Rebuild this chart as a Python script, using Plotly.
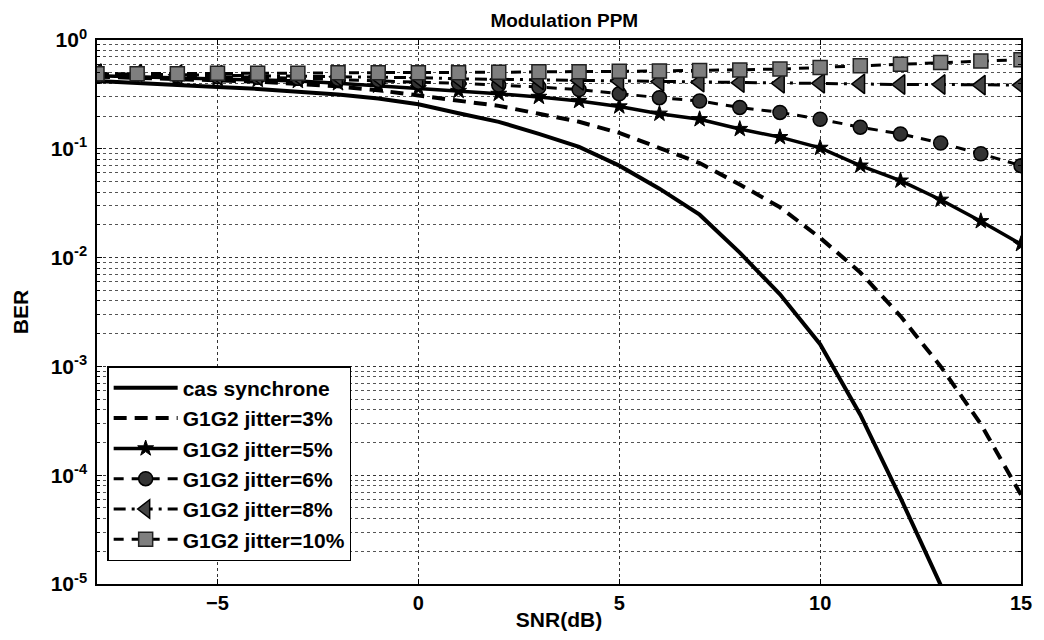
import plotly.graph_objects as go

snr = list(range(-8, 16))

ber_sync = [0.42, 0.40, 0.385, 0.37, 0.355, 0.335, 0.315, 0.29, 0.257, 0.212, 0.177, 0.137,
            0.104, 0.07, 0.043, 0.0248, 0.0111, 0.0046, 0.0016, 3.6e-4, 6.2e-5, 9.8e-6]
ber_j3 = [0.46, 0.45, 0.44, 0.43, 0.415, 0.395, 0.375, 0.345, 0.31, 0.28, 0.248, 0.21, 0.177,
          0.14, 0.102, 0.074, 0.047, 0.029, 0.0152, 0.0073, 0.0029, 0.001, 2.95e-4, 6.6e-5]
ber_j5 = [0.47, 0.46, 0.45, 0.44, 0.43, 0.42, 0.40, 0.38, 0.36, 0.34, 0.32, 0.30, 0.275,
          0.245, 0.21, 0.187, 0.152, 0.128, 0.102, 0.07, 0.051, 0.034, 0.0216, 0.0133]
ber_j6 = [0.48, 0.475, 0.47, 0.46, 0.455, 0.445, 0.435, 0.425, 0.41, 0.40, 0.385, 0.37, 0.35,
          0.32, 0.295, 0.275, 0.24, 0.216, 0.187, 0.158, 0.137, 0.113, 0.09, 0.07]
ber_j8 = [0.49, 0.485, 0.48, 0.475, 0.47, 0.465, 0.46, 0.455, 0.45, 0.44, 0.435, 0.43, 0.425,
          0.42, 0.415, 0.41, 0.405, 0.40, 0.40, 0.395, 0.39, 0.39, 0.385, 0.385]
ber_j10 = [0.49, 0.49, 0.49, 0.495, 0.495, 0.495, 0.50, 0.50, 0.50, 0.50, 0.505, 0.51, 0.51,
           0.515, 0.52, 0.525, 0.53, 0.54, 0.56, 0.58, 0.60, 0.62, 0.64, 0.66]

names = ["cas synchrone", "G1G2 jitter=3%", "G1G2 jitter=5%", "G1G2 jitter=6%",
         "G1G2 jitter=8%", "G1G2 jitter=10%"]

x_ticks = [-5, 0, 5, 10, 15]
y_ticks = [1e-5, 1e-4, 1e-3, 1e-2, 1e-1, 1]
y_ticktext = ["10<sup>-5</sup>", "10<sup>-4</sup>", "10<sup>-3</sup>", "10<sup>-2</sup>",
              "10<sup>-1</sup>", "10<sup>0</sup>"]

FONT = "Liberation Sans, Arial, sans-serif"

fig = go.Figure()
fig.add_trace(go.Scatter(x=snr[:len(ber_sync)], y=ber_sync, name=names[0], mode="lines",
                         line=dict(color="black", width=4)))
fig.add_trace(go.Scatter(x=snr, y=ber_j3, name=names[1], mode="lines",
                         line=dict(color="black", width=4, dash="13px,8px")))
fig.add_trace(go.Scatter(x=snr, y=ber_j5, name=names[2], mode="lines+markers",
                         line=dict(color="black", width=3.5),
                         marker=dict(symbol="star", size=12, color="black",
                                     line=dict(color="black", width=1))))
fig.add_trace(go.Scatter(x=snr, y=ber_j6, name=names[3], mode="lines+markers",
                         line=dict(color="black", width=3, dash="10px,8px"),
                         marker=dict(symbol="circle", size=14, color="#333333",
                                     line=dict(color="black", width=1.5))))
fig.add_trace(go.Scatter(x=snr, y=ber_j8, name=names[4], mode="lines+markers",
                         line=dict(color="black", width=3, dash="12px,6px,3px,6px"),
                         marker=dict(symbol="triangle-left", size=17, color="#444444",
                                     line=dict(color="black", width=1.5))))
fig.add_trace(go.Scatter(x=snr, y=ber_j10, name=names[5], mode="lines+markers",
                         line=dict(color="black", width=3, dash="10px,8px"),
                         marker=dict(symbol="square", size=14, color="#7f7f7f",
                                     line=dict(color="#222", width=1.5))))

fig.update_layout(
    width=1036, height=632,
    margin=dict(l=87, r=14, t=32, b=50),
    paper_bgcolor="white", plot_bgcolor="white",
    font=dict(family=FONT, size=20, color="black", weight="bold"),
    title=dict(text="Modulation PPM", x=0.537, xanchor="center", y=0.981, yanchor="middle",
               font=dict(family=FONT, size=19, color="black", weight="bold")),
    legend=dict(x=0.011, y=0.042, xanchor="left", yanchor="bottom",
                bgcolor="white", bordercolor="black", borderwidth=1.5,
                font=dict(family=FONT, size=21, color="black", weight="bold"),
                tracegroupgap=0, itemwidth=64),
    showlegend=True,
)

fig.update_xaxes(
    range=[-8, 15], tickvals=x_ticks, ticks="inside", ticklen=5, tickcolor="black",
    showline=True, linecolor="black", linewidth=1.5, mirror="ticks",
    showgrid=True, gridcolor="#333", gridwidth=1, griddash="dot", zeroline=False,
    ticklabeloverflow="allow",
    tickfont=dict(family=FONT, size=20, color="black", weight="bold"),
    title=dict(text="SNR(dB)", standoff=0,
               font=dict(family=FONT, size=21, color="black", weight="bold")),
)
fig.update_yaxes(
    type="log", range=[-5, 0], tickvals=y_ticks, ticktext=y_ticktext,
    ticks="inside", ticklen=5, tickcolor="black", ticklabelstandoff=4,
    showline=True, linecolor="black", linewidth=1.5, mirror="ticks",
    showgrid=True, gridcolor="#333", gridwidth=1, griddash="dot", zeroline=False,
    minor=dict(dtick="D1", ticks="inside", ticklen=3, tickcolor="black",
               showgrid=True, gridcolor="#555", gridwidth=1, griddash="dot"),
    tickfont=dict(family=FONT, size=21, color="black", weight="bold"),
    title=dict(text="BER", standoff=16,
               font=dict(family=FONT, size=21, color="black", weight="bold")),
)

fig.write_html("out.html")
